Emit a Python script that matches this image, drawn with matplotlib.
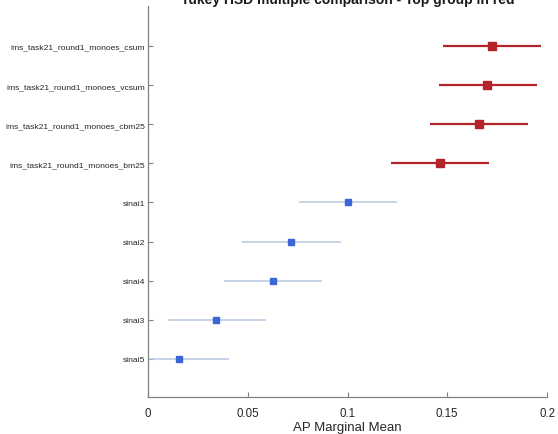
import matplotlib
matplotlib.use('Agg')
import matplotlib.pyplot as plt

plt.rcParams['font.family'] = ['Liberation Sans', 'DejaVu Sans']

# 组名（从上到下）
groups = ['ims_task21_round1_monoes_csum', 'ims_task21_round1_monoes_vcsum',
          'ims_task21_round1_monoes_cbm25', 'ims_task21_round1_monoes_bm25',
          'sinai1', 'sinai2', 'sinai4', 'sinai3', 'sinai5']
means = [0.1724, 0.1701, 0.1657, 0.1464, 0.1003, 0.0717, 0.0628, 0.0342, 0.0157]
lower = [0.1479, 0.1457, 0.1415, 0.1218, 0.0757, 0.0473, 0.0383, 0.0098, -0.0089]
upper = [0.1970, 0.1948, 0.1905, 0.1708, 0.1250, 0.0965, 0.0874, 0.0590, 0.0404]
top_group = [True, True, True, True, False, False, False, False, False]

fig = plt.figure(figsize=(5.58, 4.35), dpi=100)
ax = fig.add_axes([148 / 558, 1 - 398 / 435, 399 / 558, 391 / 435])

for i, name in enumerate(groups):
    y = i + 1
    if top_group[i]:
        ax.plot([lower[i], upper[i]], [y, y], color='#b2232a', lw=1.6, solid_capstyle='butt')
        ax.plot(means[i], y, 's', color='#b2232a', ms=5.2)
    else:
        ax.plot([lower[i], upper[i]], [y, y], color='#b5c8de', lw=1.1, solid_capstyle='butt')
        ax.plot(means[i], y, 's', color='#3a66d8', ms=4.6)

ax.set_xlim(0, 0.2)
ax.set_ylim(9.98, -0.03)
ax.set_yticks(range(1, len(groups) + 1))
ax.set_yticklabels(groups, fontsize=6.1, color='#262626')
ax.set_xticks([0, 0.05, 0.1, 0.15, 0.2])
ax.set_xticklabels(['0', '0.05', '0.1', '0.15', '0.2'], fontsize=8.3, color='#262626')
ax.set_xlabel('AP Marginal Mean', fontsize=9.5, color='#262626', labelpad=2)

ax.spines['top'].set_visible(False)
ax.spines['right'].set_visible(False)
for s in ['left', 'bottom']:
    ax.spines[s].set_color('#808080')
    ax.spines[s].set_linewidth(0.9)
ax.tick_params(direction='in', length=3.5, color='#808080', width=0.8)
ax.tick_params(axis='y', pad=2.2)
ax.tick_params(axis='x', pad=7)

fig.text(347.5 / 558, 1 - 4 / 435, 'Tukey HSD multiple comparison - Top group in red',
         ha='center', va='baseline', fontsize=10, fontweight='bold', color='#1a1a1a')

fig.savefig('out.png', dpi=100)
